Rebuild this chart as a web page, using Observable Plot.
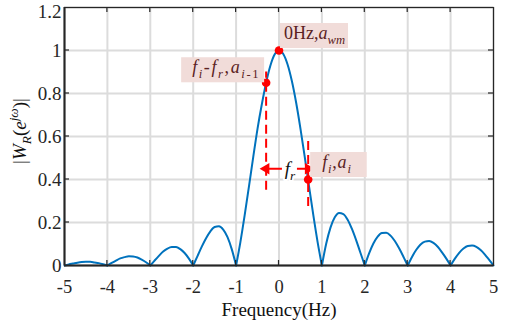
<!DOCTYPE html>
<html>
<head>
<meta charset="utf-8">
<script src="https://cdn.jsdelivr.net/npm/d3@7"></script>
<script src="https://cdn.jsdelivr.net/npm/@observablehq/plot@0.6"></script>
<style>
  html, body { margin: 0; padding: 0; background: #fff; }
  #chart { width: 506px; height: 320px; }
  #chart svg, #chart svg text { font-family: "Liberation Serif", "Times New Roman", serif !important; }
</style>
</head>
<body>
<div id="chart"></div>
<script>
// ---- data ----
const freq = [
  -5.0,-4.9,-4.8,-4.7,-4.6,-4.5,-4.4,-4.3,-4.2,-4.1,
  -4.0,-3.9,-3.8,-3.7,-3.6,-3.5,-3.4,-3.3,-3.2,-3.1,
  -3.0,-2.9,-2.8,-2.7,-2.6,-2.5,-2.4,-2.3,-2.2,-2.1,
  -2.0,-1.9,-1.8,-1.7,-1.6,-1.5,-1.4,-1.3,-1.2,-1.1,
  -1.0,-0.9,-0.8,-0.7,-0.6,-0.5,-0.4,-0.3,-0.2,-0.1,
  0.0,0.1,0.2,0.3,0.4,0.5,0.6,0.7,0.8,0.9,
  1.0,1.1,1.2,1.3,1.4,1.5,1.6,1.7,1.8,1.9,
  2.0,2.1,2.2,2.3,2.4,2.5,2.6,2.7,2.8,2.9,
  3.0,3.1,3.2,3.3,3.4,3.5,3.6,3.7,3.8,3.9,
  4.0,4.1,4.2,4.3,4.4,4.5,4.6,4.7,4.8,4.9,
  5.0
];
const mag = [
  0,0.005,0.009,0.013,0.016,0.017,0.017,0.014,0.011,0.006,
  0,0.012,0.023,0.033,0.039,0.043,0.042,0.037,0.027,0.015,
  0,0.023,0.045,0.065,0.079,0.086,0.086,0.076,0.058,0.032,
  0,0.044,0.088,0.127,0.159,0.179,0.182,0.167,0.132,0.075,
  0,0.109,0.234,0.368,0.505,0.637,0.750,0.850,0.930,0.982,
  1.000,0.984,0.935,0.858,0.757,0.637,0.505,0.368,0.234,0.109,
  0,0.101,0.176,0.224,0.244,0.239,0.213,0.170,0.117,0.058,
  0,0.056,0.102,0.134,0.151,0.152,0.139,0.114,0.080,0.041,
  0,0.040,0.073,0.098,0.111,0.114,0.105,0.087,0.061,0.032,
  0,0.032,0.059,0.079,0.091,0.093,0.087,0.072,0.051,0.026,
  0
];
const xTicks = [-5,-4,-3,-2,-1,0,1,2,3,4,5];
const yTicks = [0,0.2,0.4,0.6,0.8,1,1.2];

// marked points: peak, f_i - f_r, f_i
const pointF = [0, -0.3, 0.68];
const pointA = [1, 0.85, 0.40];
// dashed guides
const guideF  = [-0.3, 0.68];
const guideY1 = [0.35, 0.275];
const guideY2 = [0.90, 0.60];
// f_r dimension arrow
const arrowY = 0.45;
const arrowFrom = [0.08, 0.43];
const arrowTo = [-0.30, 0.68];
const frLabelF = 0.255;
// label boxes
const labelIds = ["L0", "L1", "L2"];
const labelF = [0, -0.3, 0.68];
const labelA = [1, 0.85, 0.40];

// ---- tables ----
const rows = [];
let seg = 0;
freq.forEach((f, i) => {
  rows.push({f, m: mag[i], seg});
  if (mag[i] === 0 && i > 0 && i < freq.length - 1) { seg++; rows.push({f, m: mag[i], seg}); }
});
const points = pointF.map((f, i) => ({f, a: pointA[i]}));
const guides = guideF.map((f, i) => ({f, y1: guideY1[i], y2: guideY2[i]}));
const arrows = arrowFrom.map((x1, i) => ({x1, x2: arrowTo[i], y: arrowY, rot: arrowTo[i] < x1 ? -90 : 90}));
const labels = labelIds.map((id, i) => ({id, f: labelF[i], a: labelA[i]}));

const RED = "#ff0000";
const BLUE = "#0072bd";
const FONT = "Liberation Serif, Times New Roman, serif";

const chart = Plot.plot({
  width: 506, height: 320,
  marginLeft: 64, marginRight: 13, marginTop: 7, marginBottom: 55,
  style: {fontFamily: FONT, fontSize: "18px", background: "#fff", color: "#262626", overflow: "visible"},
  x: {domain: [-5, 5]},
  y: {domain: [0, 1.2]},
  marks: [
    Plot.gridX(xTicks, {stroke: "#dcdcdc", strokeOpacity: 1, strokeWidth: 2}),
    Plot.gridY(yTicks, {stroke: "#dcdcdc", strokeOpacity: 1, strokeWidth: 2}),
    Plot.line(rows, {x: "f", y: "m", z: "seg", curve: "monotone-x", stroke: BLUE, strokeWidth: 2}),
    Plot.ruleX(guides, {x: "f", y1: "y1", y2: "y2", stroke: RED, strokeWidth: 2, strokeDasharray: "9,5"}),
    Plot.ruleY(arrows, {y: "y", x1: "x1", x2: "x2", stroke: RED, strokeWidth: 2}),
    Plot.dot(arrows, {x: "x2", y: "y", symbol: "triangle", r: 4.2, fill: RED, stroke: null, rotate: "rot"}),
    Plot.text([frLabelF], {x: d => d, y: arrowY, text: () => "FR", fill: "#111", stroke: "#fff", strokeWidth: 4,
      fontSize: 19}),
    Plot.dot(points, {x: "f", y: "a", r: 4.3, fill: RED, stroke: null}),
    Plot.text(labels, {x: "f", y: "a", text: "id", fill: "#5a2222", fontSize: 18}),
    Plot.frame({stroke: "#262626", strokeWidth: 1.2}),
    Plot.ruleX([-5], {stroke: "#262626", strokeWidth: 2}),
    Plot.ruleY([0], {stroke: "#262626", strokeWidth: 2}),
    Plot.axisX(xTicks, {anchor: "bottom", tickSize: 0, tickPadding: 14, tickFormat: d => String(d), label: null, fontSize: 18.5}),
    Plot.axisY(yTicks, {anchor: "left", tickSize: 0, tickPadding: 3, tickFormat: d => String(d), label: null, fontSize: 19}),
    Plot.text(["Frequency(Hz)"], {frameAnchor: "bottom", lineAnchor: "middle", dy: 44, fontSize: 19, fill: "#111"})
  ]
});
document.getElementById("chart").appendChild(chart);

// ---- post-processing: rich text, inward ticks, label boxes ----
const svg = d3.select(chart);
const sx = chart.scale("x"), sy = chart.scale("y");
const yTop = sy.apply(1.2), yBot = sy.apply(0), xLeft = sx.apply(-5), xRight = sx.apply(5);
const tickG = svg.append("g").attr("stroke", "#262626").attr("stroke-width", 1.2);
xTicks.slice(1, -1).forEach(v => {
  const x = sx.apply(v);
  tickG.append("line").attr("x1", x).attr("x2", x).attr("y1", yBot).attr("y2", yBot - 5);
  tickG.append("line").attr("x1", x).attr("x2", x).attr("y1", yTop).attr("y2", yTop + 5);
});
yTicks.slice(1, -1).forEach(v => {
  const y = sy.apply(v);
  tickG.append("line").attr("x1", xLeft).attr("x2", xLeft + 5).attr("y1", y).attr("y2", y);
  tickG.append("line").attr("x1", xRight).attr("x2", xRight - 5).attr("y1", y).attr("y2", y);
});

function rich(textEl, parts, size) {
  textEl.text(null);
  let shift = 0;
  parts.forEach(p => {
    const t = textEl.append("tspan").text(p.t);
    if (p.i) t.attr("font-style", "italic");
    let target = 0, fs = size;
    if (p.sub) { target = size * 0.28; fs = size * 0.7; }
    if (p.sup) { target = -size * 0.42; fs = size * 0.7; }
    t.attr("font-size", fs);
    if (target !== shift) { t.attr("dy", target - shift); shift = target; }
  });
}

const labelParts = {
  L0: [{t: "0Hz,"}, {t: "a", i: 1}, {t: "wm", i: 1, sub: 1}],
  L1: [{t: "f", i: 1}, {t: "i", i: 1, sub: 1}, {t: "-"}, {t: "f", i: 1}, {t: "r", i: 1, sub: 1}, {t: ","}, {t: "a", i: 1}, {t: "i", i: 1, sub: 1}, {t: "-1", sub: 1}],
  L2: [{t: "f", i: 1}, {t: "i", i: 1, sub: 1}, {t: ","}, {t: "a", i: 1}, {t: "i", i: 1, sub: 1}]
};
// padding inside each label box (left, right), letter spacing, offsets
const labelPlace = {
  L0: {anchor: "start", dx: 5, dy: -12, padL: 4, padR: 3, ls: 0},
  L1: {anchor: "end", dx: -6, dy: -10, padL: 11, padR: 4, ls: 1.6},
  L2: {anchor: "start", dx: 14, dy: -12, padL: 12, padR: 15, ls: 0.8}
};
svg.selectAll("text").each(function () {
  const el = d3.select(this);
  const txt = el.text();
  if (labelParts[txt]) {
    const pl = labelPlace[txt];
    el.attr("text-anchor", pl.anchor).attr("letter-spacing", pl.ls);
    const x0 = +el.attr("x") || 0, y0 = +el.attr("y") || 0;
    const tr = el.attr("transform");
    let bx = 0, by = 0;
    if (tr) { const m = /translate\(([-\d.]+),\s*([-\d.]+)\)/.exec(tr); if (m) { bx = +m[1]; by = +m[2]; } }
    el.attr("transform", null);
    el.attr("x", bx + x0 + pl.dx).attr("y", by + y0 + pl.dy);
    rich(el, labelParts[txt], 18);
    const bb = this.getBBox();
    this.parentNode.insertBefore(document.createElementNS("http://www.w3.org/2000/svg", "rect"), this);
    d3.select(this.previousSibling)
      .attr("x", bb.x - pl.padL).attr("y", bb.y + 0.5).attr("width", bb.width + pl.padL + pl.padR).attr("height", bb.height + 1)
      .attr("fill", "#f1dcd9");
  } else if (txt === "FR") {
    rich(el, [{t: "f", i: 1}, {t: "r", i: 1, sub: 1}], 19);
  } else if (txt === "1.2" && this.closest("[aria-label='y-axis tick label']")) {
    el.attr("dy", (+(parseFloat(el.attr("dy")) || 0)) + "").attr("transform", (el.attr("transform") || "") + " translate(0,4)");
  }
});

// y-axis label
const yl = svg.append("text")
  .attr("transform", `translate(26,${(yTop + yBot) / 2 - 5}) rotate(-90)`)
  .attr("text-anchor", "middle")
  .attr("fill", "#111")
  .attr("font-size", 19);
rich(yl, [{t: "|"}, {t: "W", i: 1}, {t: "R", i: 1, sub: 1}, {t: "("}, {t: "e", i: 1}, {t: "jω", i: 1, sup: 1}, {t: ")"}, {t: "|"}], 19);
</script>
</body>
</html>
